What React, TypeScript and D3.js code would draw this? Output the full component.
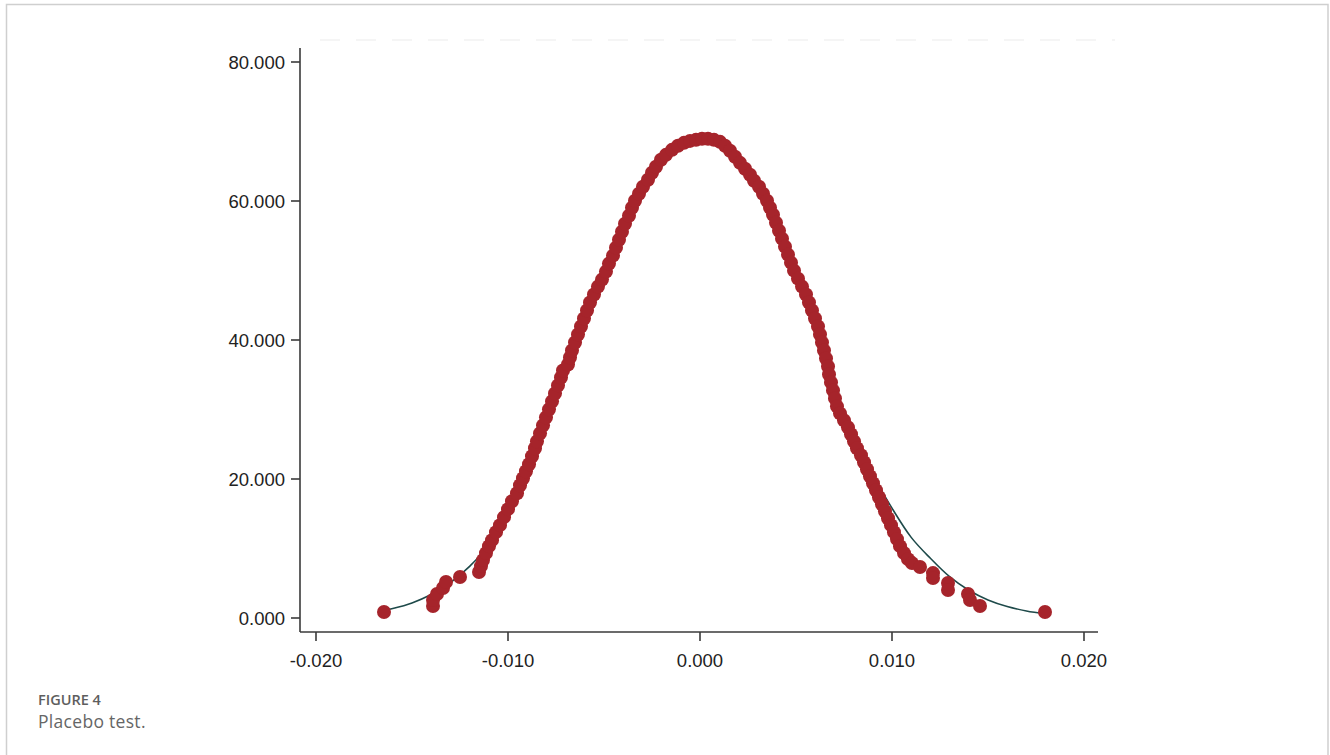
import React from "react";
import * as d3 from "d3";

// ---------- data ----------
const xTicks = [-0.02, -0.01, 0.0, 0.01, 0.02];
const yTicks = [0, 20, 40, 60, 80];

// normal density overlay (x, density), mostly hidden under the dots in the middle
const curveX = [-0.0165, -0.016, -0.015, -0.014, -0.013, -0.012, -0.011, -0.01, -0.009, -0.008, -0.007, -0.006, -0.005, -0.004, -0.003, -0.002, -0.001, 0.0, 0.001, 0.002, 0.003, 0.004, 0.005, 0.006, 0.007, 0.008, 0.009, 0.01, 0.011, 0.012, 0.013, 0.014, 0.015, 0.016, 0.017, 0.018];
const curveY = [1.06, 1.36, 2.17, 3.37, 5.08, 7.43, 10.56, 15.2, 20.8, 28.0, 36.3, 43.0, 49.0, 56.0, 61.6, 65.8, 68.1, 68.95, 68.5, 65.9, 62.2, 57.0, 49.3, 43.0, 32.6, 25.8, 20.6, 15.8, 11.6, 8.59, 5.94, 3.99, 2.6, 1.65, 1.01, 0.6];

// placebo estimates (coefficient) and their kernel density
const dotX = [
  -0.016458, -0.013906, -0.013906, -0.013698, -0.013385, -0.013229, -0.0125,
  -0.01151, -0.011406, -0.011302, -0.011146, -0.01099,
  -0.010833, -0.010625, -0.010417, -0.010208, -0.01, -0.009792, -0.009531, -0.009375, -0.009219, -0.009063,
  -0.008906, -0.00875, -0.008594, -0.00849, -0.008333, -0.008177, -0.008021, -0.007865, -0.007708, -0.007552,
  -0.007396, -0.00724, -0.007135, -0.006875, -0.006771, -0.006667, -0.00651, -0.006354, -0.006198, -0.006042,
  -0.005885, -0.005729, -0.005521, -0.005313, -0.005104, -0.004896, -0.00474, -0.004531, -0.004375, -0.004219,
  -0.004063, -0.003906, -0.003698, -0.003542, -0.003385, -0.003177, -0.002969, -0.002708, -0.0025, -0.002292,
  -0.002031, -0.001771, -0.001458, -0.001146, -0.000833, -0.000521, -0.000208, 0.000104, 0.000417, 0.000729,
  0.001042, 0.001302, 0.001563, 0.001823, 0.002083, 0.002344, 0.002604, 0.002813, 0.003073, 0.003281,
  0.00349, 0.003646, 0.003802, 0.003958, 0.004115, 0.004271, 0.004427, 0.004583, 0.00474, 0.004896,
  0.005104, 0.005313, 0.005521, 0.005677, 0.005833, 0.00599, 0.006146, 0.00625, 0.006354, 0.006458,
  0.006563, 0.006667, 0.006719, 0.006823, 0.006927, 0.007031, 0.007135, 0.007292, 0.0075, 0.007708,
  0.007865, 0.008021, 0.008177, 0.008385, 0.008542, 0.008698, 0.008854, 0.00901, 0.009167, 0.009323,
  0.009479, 0.009635, 0.009792, 0.009948, 0.010104, 0.01026, 0.010417, 0.010625, 0.010833,
  0.011042, 0.011458, 0.012135, 0.012135, 0.012917, 0.012917, 0.013958, 0.014063, 0.014583, 0.017969,
];
const dotY = [
  0.86, 1.72, 2.59, 3.45, 4.31, 5.17, 5.89,
  6.61, 7.47, 8.33, 9.34, 10.34,
  11.2, 12.35, 13.36, 14.51, 15.66, 16.8, 17.95, 19.1, 20.11, 21.11,
  22.12, 23.27, 24.42, 25.42, 26.57, 27.72, 28.87, 30.02, 31.17, 32.32,
  33.47, 34.61, 35.62, 36.48, 37.49, 38.49, 39.64, 40.79, 41.94, 43.09,
  44.24, 45.39, 46.54, 47.68, 48.69, 49.84, 50.99, 52.14, 53.29, 54.43,
  55.58, 56.73, 57.88, 59.03, 60.04, 61.04, 62.05, 63.05, 64.06, 64.92,
  65.93, 66.64, 67.36, 67.94, 68.37, 68.65, 68.8, 68.94, 68.94, 68.8,
  68.51, 67.94, 67.22, 66.36, 65.49, 64.63, 63.77, 62.91, 62.05, 61.04,
  60.04, 59.03, 58.03, 56.88, 55.73, 54.58, 53.43, 52.28, 51.13, 49.98,
  48.83, 47.68, 46.54, 45.39, 44.24, 43.09, 41.94, 40.79, 39.64, 38.49,
  37.34, 36.19, 35.04, 33.9, 32.75, 31.6, 30.45, 29.44, 28.44, 27.43,
  26.43, 25.42, 24.42, 23.41, 22.41, 21.4, 20.39, 19.39, 18.38, 17.38,
  16.37, 15.37, 14.36, 13.36, 12.35, 11.35, 10.34, 9.34, 8.47,
  7.9, 7.33, 6.46, 5.75, 5.03, 4.02, 3.45, 2.59, 1.72, 0.86,
];

const captionTitle = "FIGURE 4";
const captionText = "Placebo test.";

// ---------- component ----------
export default function App() {
  const W = 1330;
  const H = 755;
  const x = d3.scaleLinear().domain([-0.02, 0.02]).range([316, 1084]);
  const y = d3.scaleLinear().domain([0, 80]).range([618, 62]);

  const axisColor = "#3a3a3a";
  const dotColor = "#a6242b";
  const lineColor = "#1e4a4a";
  const font = "'Liberation Sans', Arial, sans-serif";
  const capFont = "'Open Sans', 'Noto Sans', sans-serif";

  const curvePts = curveX.map((v, i) => [v, curveY[i]] as [number, number]);
  const line = d3
    .line<[number, number]>()
    .x((d) => x(d[0]))
    .y((d) => y(d[1]))
    .curve(d3.curveCatmullRom.alpha(0.5));

  const fmt = d3.format(".3f");

  const axisLeftX = 300;
  const axisBottomY = 632;

  return (
    <div style={{ position: "fixed", left: 0, top: 0 }}>
      <svg width={W} height={H} style={{ display: "block", background: "#fff" }}>
        {/* page frame */}
        <rect x={6.5} y={4.5} width={1321.5} height={800} fill="none" stroke="#cfcfcf" strokeWidth={1.5} />
        {/* faint top artefact line */}
        <line x1={320} x2={1115} y1={40} y2={40} stroke="#f5f5f5" strokeWidth={2} strokeDasharray="20 16" />

        {/* y axis */}
        <line x1={axisLeftX} x2={axisLeftX} y1={48} y2={axisBottomY} stroke={axisColor} strokeWidth={1.6} />
        {yTicks.map((t) => (
          <g key={"y" + t}>
            <line x1={axisLeftX - 9} x2={axisLeftX} y1={y(t)} y2={y(t)} stroke={axisColor} strokeWidth={1.6} />
            <text
              x={285}
              y={y(t)}
              textAnchor="end"
              dominantBaseline="central"
              fontFamily={font}
              fontSize={18.5}
              fill="#222"
            >
              {fmt(t)}
            </text>
          </g>
        ))}

        {/* x axis */}
        <line x1={axisLeftX} x2={1098} y1={axisBottomY} y2={axisBottomY} stroke={axisColor} strokeWidth={1.6} />
        {xTicks.map((t) => (
          <g key={"x" + t}>
            <line x1={x(t)} x2={x(t)} y1={axisBottomY} y2={axisBottomY + 9} stroke={axisColor} strokeWidth={1.6} />
            <text
              x={x(t)}
              y={667}
              textAnchor="middle"
              fontFamily={font}
              fontSize={18.5}
              fill="#222"
            >
              {t < 0 ? "-" + fmt(-t) : fmt(t)}
            </text>
          </g>
        ))}

        {/* normal density curve */}
        <path d={line(curvePts) || ""} fill="none" stroke={lineColor} strokeWidth={1.6} />

        {/* kernel density dots */}
        {dotX.map((v, i) => (
          <circle key={"d" + i} cx={x(v)} cy={y(dotY[i])} r={7} fill={dotColor} />
        ))}

        {/* caption */}
        <text x={38} y={705} fontFamily={capFont} fontWeight={600} fontSize={14.5} fill="#5e5e5e">
          {captionTitle}
        </text>
        <text x={38} y={728} fontFamily={capFont} fontSize={17.5} fill="#666" letterSpacing={0.3}>
          {captionText}
        </text>
      </svg>
    </div>
  );
}
